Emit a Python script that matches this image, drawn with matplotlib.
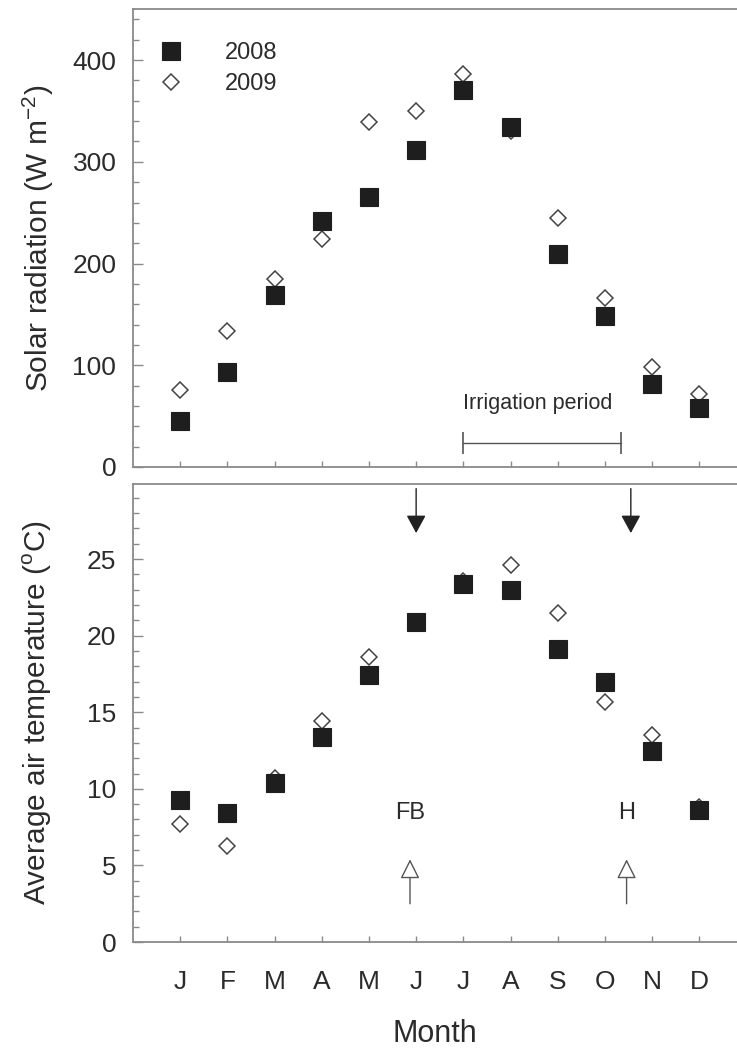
import matplotlib.pyplot as plt
import numpy as np
from matplotlib.ticker import MultipleLocator

plt.rcParams['font.family'] = ['Liberation Sans', 'DejaVu Sans']

months = ['J', 'F', 'M', 'A', 'M', 'J', 'J', 'A', 'S', 'O', 'N', 'D']
years = ['2008', '2009']

# monthly mean solar radiation (W m-2)
rad_2008 = [45, 93, 169, 242, 265, 312, 371, 334, 209, 148, 82, 58]
rad_2009 = [76, 134, 185, 224, 339, 350, 386, 330, 245, 166, 98, 72]

# monthly mean air temperature (oC)
temp_2008 = [9.3, 8.4, 10.4, 13.4, 17.4, 20.9, 23.4, 23.0, 19.1, 17.0, 12.5, 8.6]
temp_2009 = [7.7, 6.3, 10.7, 14.4, 18.6, 20.9, 23.6, 24.6, 21.5, 15.7, 13.5, 8.8]

irrig_start, irrig_end, irrig_y = 7, 10.35, 24
event_labels = ['FB', 'H']
event_x = [5.87, 10.46]
down_x = [6.0, 10.55]

spine_col = '#8a8a8a'
txt_col = '#2b2b2b'
x = np.arange(1, 13)

fig = plt.figure(figsize=(7.37, 10.55), dpi=100)
ax1 = fig.add_axes([0.1805, 0.5574, 0.8195, 0.4338])
ax2 = fig.add_axes([0.1805, 0.1071, 0.8195, 0.4341])


def style(ax, ymax, major, minor):
    ax.set_xlim(0, 12.8)
    ax.set_ylim(0, ymax)
    ax.set_xticks(x)
    ax.yaxis.set_major_locator(MultipleLocator(major))
    ax.yaxis.set_minor_locator(MultipleLocator(minor))
    for s in ['left', 'bottom', 'top']:
        ax.spines[s].set_color(spine_col)
        ax.spines[s].set_linewidth(1.3)
    ax.spines['right'].set_visible(False)
    ax.tick_params(axis='y', which='major', direction='in', length=7, width=1,
                   color=spine_col, labelsize=19, labelcolor=txt_col, pad=12)
    ax.tick_params(axis='y', which='minor', direction='in', length=4, width=1, color=spine_col)
    ax.tick_params(axis='x', which='major', direction='in', length=4, width=1,
                   color=spine_col, labelsize=19, labelcolor=txt_col, pad=20)


def scatter(ax, a, b):
    ax.plot(x, b, linestyle='none', marker='D', ms=8.5, mfc='white', mec='#444444',
            mew=1.1, label=years[1], zorder=3)
    ax.plot(x, a, linestyle='none', marker='s', ms=13.5, mfc='#1e1e1e', mec='#1e1e1e',
            mew=0.8, label=years[0], zorder=4)


# top panel
style(ax1, 450, 100, 20)
scatter(ax1, rad_2008, rad_2009)
ax1.set_xticklabels([])
ax1.set_ylabel('Solar radiation (W m$^{\\mathregular{-2}}$)', fontsize=21.5, color=txt_col, labelpad=12)
h, l = ax1.get_legend_handles_labels()
ax1.legend(h[::-1], l[::-1], loc='upper left', bbox_to_anchor=(-0.012, 0.975), frameon=False,
           fontsize=17, handletextpad=1.3, labelspacing=0.4, labelcolor=txt_col)
ax1.plot([irrig_start, irrig_end], [irrig_y, irrig_y], color='#555555', lw=1,
         marker='|', ms=16, mew=1.2)
ax1.text(irrig_start, irrig_y + 28, 'Irrigation period', fontsize=15.5, color=txt_col,
         ha='left', va='bottom')

# bottom panel
style(ax2, 29.9, 5, 1)
scatter(ax2, temp_2008, temp_2009)
ax2.set_xticklabels(months)
ax2.set_ylabel('Average air temperature ($^{\\mathregular{o}}$C)', fontsize=21.5, color=txt_col, labelpad=24)
ax2.set_xlabel('Month', fontsize=22, color=txt_col, labelpad=18)

for xd in down_x:
    ax2.annotate('', xy=(xd, 26.7), xytext=(xd, 29.6),
                 arrowprops=dict(arrowstyle='-|>,head_length=1.1,head_width=0.6',
                                 color='#222222', lw=1, mutation_scale=10,
                                 shrinkA=0, shrinkB=0))
for lab, xe in zip(event_labels, event_x):
    ax2.text(xe, 8.4, lab, fontsize=17, color=txt_col, ha='center', va='center')
    ax2.annotate('', xy=(xe, 5.4), xytext=(xe, 2.5),
                 arrowprops=dict(arrowstyle='-|>,head_length=1.2,head_width=0.6',
                                 fc='white', ec='#555555', lw=1, mutation_scale=10,
                                 shrinkA=0, shrinkB=0))

fig.savefig('out.png', dpi=100)
